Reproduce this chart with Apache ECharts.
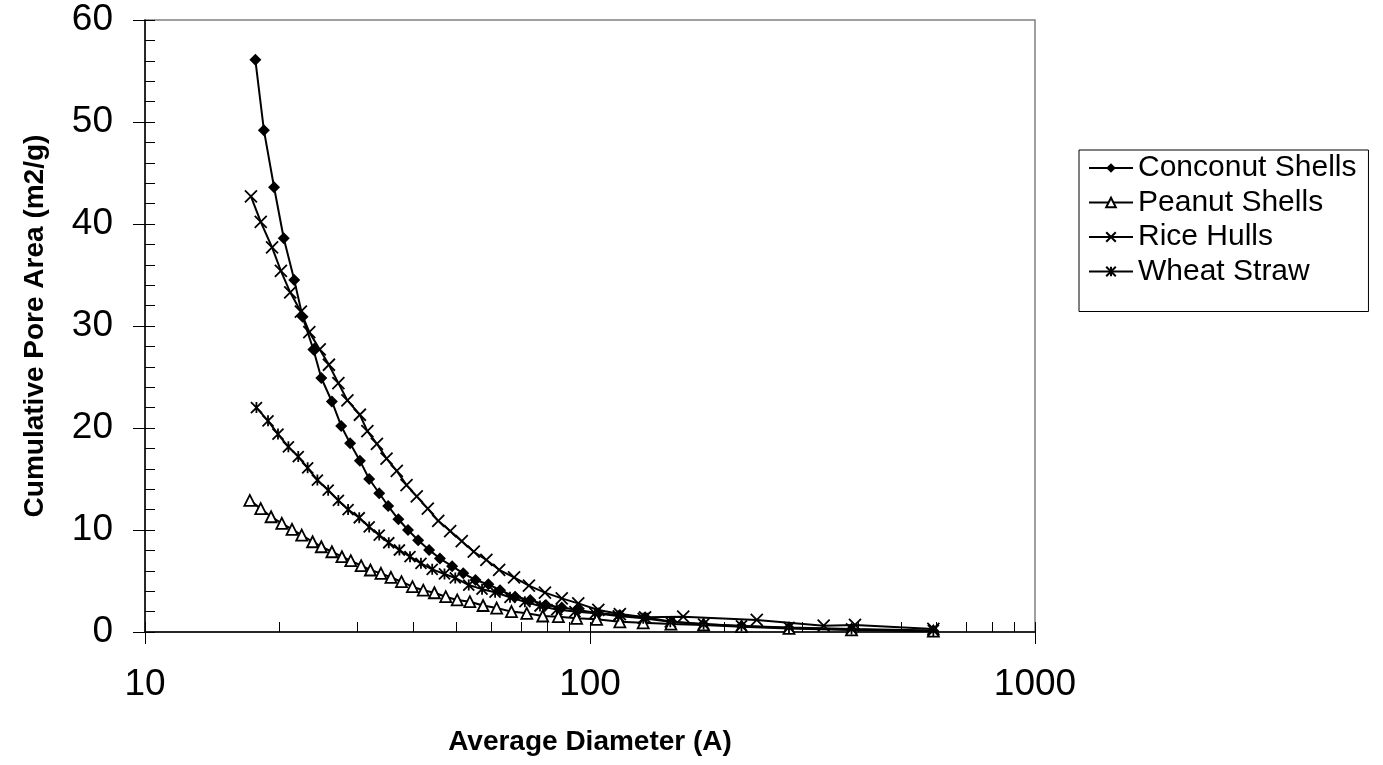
<!DOCTYPE html>
<html>
<head>
<meta charset="utf-8">
<title>Cumulative Pore Area</title>
<script src="https://cdn.jsdelivr.net/npm/echarts@6/dist/echarts.min.js"></script>
<style>
  html, body { margin: 0; padding: 0; background: #fff; }
  #main { width: 1383px; height: 765px; }
</style>
</head>
<body>
<div id="main"></div>
<script>
// values (diameter in A, area in m2/g)
const coconutDiam = [17.7, 18.5, 19.5, 20.5, 21.65, 22.6, 23.9, 24.9, 26.3, 27.6, 28.9, 30.4, 31.9, 33.6, 35.2, 37.1, 39.0, 41.1, 43.5, 46.0, 49.0, 51.9, 55.3, 59.1, 62.8, 67.9, 73.4, 79.6, 86.4, 94.1, 104.4, 116.7, 133, 152.6, 179.8, 219, 280, 387, 591]
const coconutArea = [56.1, 49.2, 43.6, 38.6, 34.5, 30.9, 27.7, 24.9, 22.6, 20.2, 18.5, 16.8, 15.0, 13.6, 12.35, 11.05, 10.0, 9.0, 8.05, 7.2, 6.45, 5.75, 5.1, 4.67, 4.1, 3.46, 3.14, 2.65, 2.4, 2.16, 1.83, 1.67, 1.44, 1.0, 0.75, 0.59, 0.4, 0.25, 0.1]

const peanutDiam = [17.2, 18.2, 19.2, 20.3, 21.4, 22.5, 23.8, 24.9, 26.3, 27.7, 29.0, 30.6, 32.1, 33.9, 35.7, 37.7, 39.9, 42.2, 44.7, 47.4, 50.3, 53.7, 57.5, 61.7, 66.6, 72.1, 78.3, 84.9, 93.3, 103.5, 116.7, 131.7, 152, 180, 219, 280, 387, 591]
const peanutArea = [12.9, 12.1, 11.3, 10.65, 10.07, 9.5, 8.85, 8.36, 7.87, 7.38, 6.99, 6.5, 6.08, 5.75, 5.36, 4.93, 4.44, 4.1, 3.85, 3.46, 3.14, 2.97, 2.6, 2.35, 2.0, 1.83, 1.57, 1.5, 1.34, 1.24, 1.0, 0.9, 0.78, 0.69, 0.52, 0.35, 0.2, 0.08]

const riceDiam = [17.3, 18.2, 19.3, 20.2, 21.2, 22.4, 23.4, 24.7, 25.9, 27.2, 28.5, 30.4, 31.6, 33.2, 34.9, 36.8, 38.7, 40.8, 43.2, 45.6, 48.5, 51.5, 54.8, 58.5, 62.5, 67.5, 72.9, 79.2, 86.4, 94.1, 104.4, 116.7, 133, 162, 237, 335, 394, 591]
const riceArea = [42.7, 40.2, 37.7, 35.4, 33.3, 31.4, 29.4, 27.7, 26.2, 24.4, 22.7, 21.3, 19.7, 18.45, 17.0, 15.8, 14.4, 13.3, 12.1, 10.9, 9.9, 8.9, 7.87, 7.06, 6.1, 5.36, 4.54, 3.86, 3.3, 2.81, 2.16, 1.76, 1.44, 1.5, 1.18, 0.62, 0.69, 0.3]

const wheatDiam = [17.8, 18.9, 19.9, 21.0, 22.1, 23.2, 24.4, 25.8, 27.2, 28.6, 30.3, 31.9, 33.6, 35.3, 37.3, 39.4, 41.7, 44.2, 47.1, 49.8, 53.4, 57.2, 61.2, 66.1, 71.4, 77.2, 84.2, 92.5, 102.6, 115.8, 131.7, 151.5, 180, 219, 280, 387, 591]
const wheatArea = [22.0, 20.7, 19.4, 18.15, 17.2, 16.1, 14.9, 13.9, 12.9, 12.0, 11.2, 10.3, 9.5, 8.75, 8.04, 7.38, 6.73, 6.14, 5.69, 5.3, 4.6, 4.2, 3.9, 3.4, 2.97, 2.55, 2.2, 2.0, 1.83, 1.57, 1.34, 1.0, 0.78, 0.6, 0.45, 0.3, 0.15]

const seriesNames = ['Conconut Shells', 'Peanut Shells', 'Rice Hulls', 'Wheat Straw']
const xTicks = [10, 20, 30, 40, 50, 60, 70, 80, 90, 100, 200, 300, 400, 500, 600, 700, 800, 900, 1000]

const pairs = (xs, ys) => xs.map((x, i) => [x, ys[i]])
const font = 'Liberation Sans, Arial, sans-serif'

const myChart = echarts.init(document.getElementById('main'), null, { width: 1383, height: 765 })

const lineSeries = (name, xs, ys, symbol, size, item) => ({
  name: name,
  type: 'line',
  data: pairs(xs, ys),
  symbol: symbol,
  symbolSize: size,
  lineStyle: { color: '#000', width: 2 },
  itemStyle: item,
  emphasis: { disabled: true },
  animation: false
})

myChart.setOption({
  backgroundColor: '#fff',
  animation: false,
  grid: {
    left: 145,
    top: 20,
    width: 890,
    height: 612,
    show: true,
    borderColor: '#808080',
    borderWidth: 1.5,
    backgroundColor: '#fff'
  },
  legend: {
    orient: 'vertical',
    left: 1079,
    top: 150,
    padding: [3, 12, 25, 9],
    itemWidth: 44,
    itemHeight: 12,
    itemGap: 4.5,
    borderColor: '#000',
    borderWidth: 1,
    selectedMode: false,
    textStyle: { fontFamily: font, fontSize: 30, lineHeight: 30, color: '#000' },
    data: seriesNames
  },
  xAxis: [
    {
      type: 'log',
      logBase: 10,
      min: 10,
      max: 1000,
      position: 'bottom',
      name: 'Average Diameter (A)',
      nameLocation: 'middle',
      nameGap: 96,
      nameTextStyle: { fontFamily: font, fontSize: 28, fontWeight: 'bold', color: '#000' },
      axisLine: { lineStyle: { color: '#000', width: 1.5 } },
      axisTick: { length: 12, lineStyle: { color: '#000', width: 1 } },
      axisLabel: { fontFamily: font, fontSize: 37, color: '#000', margin: 34, formatter: v => String(Math.round(v)) },
      splitLine: { show: false }
    },
    {
      // inside ticks on the log positions of 10, 20 ... 1000
      type: 'value',
      min: 1,
      max: 3,
      position: 'bottom',
      axisLine: { show: false },
      axisLabel: { show: false },
      axisTick: { inside: true, length: 10, customValues: xTicks.map(Math.log10), lineStyle: { color: '#000', width: 1 } },
      splitLine: { show: false }
    }
  ],
  yAxis: [
    {
      type: 'value',
      min: 0,
      max: 60,
      interval: 10,
      position: 'left',
      name: 'Cumulative Pore Area (m2/g)',
      nameLocation: 'middle',
      nameGap: 96,
      nameTextStyle: { fontFamily: font, fontSize: 28, fontWeight: 'bold', color: '#000' },
      axisLine: { show: true, lineStyle: { color: '#000', width: 1.5 } },
      axisTick: { show: true, length: 12, lineStyle: { color: '#000', width: 1 } },
      axisLabel: { fontFamily: font, fontSize: 37, color: '#000', margin: 32 },
      splitLine: { show: false }
    },
    {
      type: 'value',
      min: 0,
      max: 60,
      interval: 2,
      position: 'left',
      axisLine: { show: false },
      axisLabel: { show: false },
      axisTick: { show: true, inside: true, length: 10, lineStyle: { color: '#000', width: 1 } },
      splitLine: { show: false }
    }
  ],
  series: [
    lineSeries(seriesNames[0], coconutDiam, coconutArea, 'diamond', 12, { color: '#000' }),
    lineSeries(seriesNames[1], peanutDiam, peanutArea, 'triangle', 11, { color: '#fff', borderColor: '#000', borderWidth: 1.8 }),
    lineSeries(seriesNames[2], riceDiam, riceArea, 'path://M0,0L10,10M10,0L0,10', 12, { color: '#000', borderColor: '#000', borderWidth: 1.8 }),
    lineSeries(seriesNames[3], wheatDiam, wheatArea, 'path://M0,0L10,10M10,0L0,10M5,0L5,10', 11, { color: '#000', borderColor: '#000', borderWidth: 1.8 })
  ]
})
</script>
</body>
</html>
